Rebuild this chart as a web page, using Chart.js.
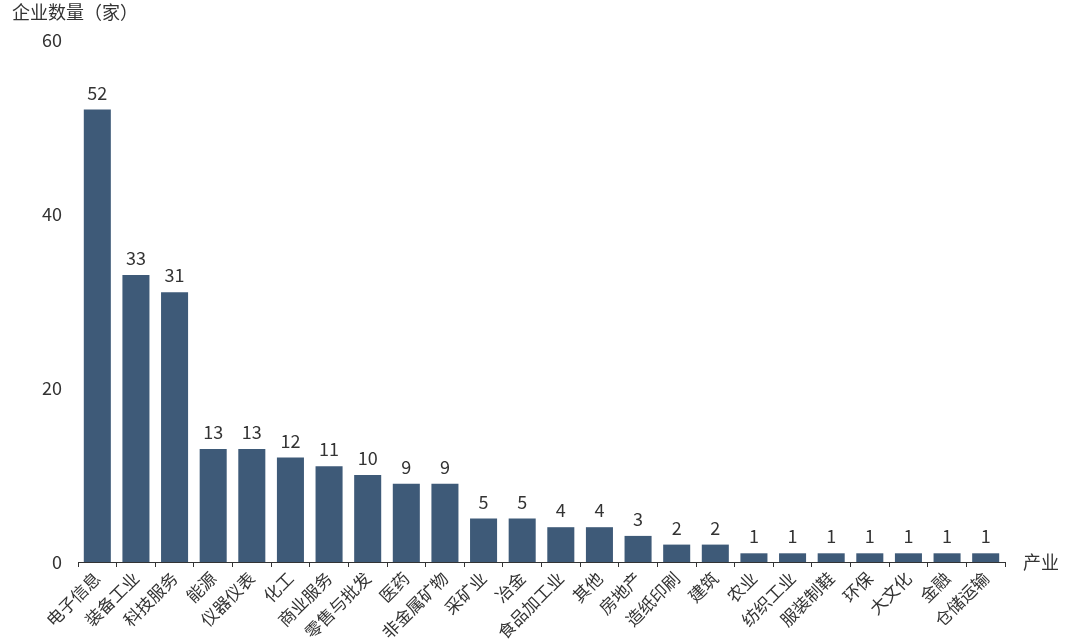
<!DOCTYPE html>
<html>
<head>
<meta charset="utf-8">
<script src="https://cdn.jsdelivr.net/npm/chart.js@4/dist/chart.umd.min.js"></script>
<style>
  html, body { margin: 0; padding: 0; background: #fff; }
  #wrap { width: 1077px; height: 643px; }
</style>
</head>
<body>
<div id="wrap"><canvas id="industryChart" width="1077" height="643"></canvas></div>
<script>
// 各产业企业数量
const industries = ['电子信息', '装备工业', '科技服务', '能源', '仪器仪表', '化工', '商业服务', '零售与批发',
  '医药', '非金属矿物', '采矿业', '冶金', '食品加工业', '其他', '房地产', '造纸印刷', '建筑', '农业',
  '纺织工业', '服装制鞋', '环保', '大文化', '金融', '仓储运输'];
const companyCounts = [52, 33, 31, 13, 13, 12, 11, 10, 9, 9, 5, 5, 4, 4, 3, 2, 2, 1, 1, 1, 1, 1, 1, 1];
const yTicks = [0, 20, 40, 60];

const FONT = "'Noto Sans CJK SC', 'Noto Sans', sans-serif";
const TEXT = '#333';

// valeurs au-dessus des barres + noms des axes
const labelPlugin = {
  id: 'labels',
  afterDatasetsDraw(chart) {
    const c = chart.ctx;
    const meta = chart.getDatasetMeta(0);
    c.save();
    c.fillStyle = TEXT;
    c.font = '18px ' + FONT;
    c.textAlign = 'center';
    c.textBaseline = 'alphabetic';
    meta.data.forEach((bar, i) => {
      c.fillText(companyCounts[i], bar.x, bar.y - 10);
    });
    c.font = '18px ' + FONT;
    c.textAlign = 'left';
    c.textBaseline = 'middle';
    c.fillText('企业数量（家）', 12, 12);
    c.fillText('产业', chart.chartArea.right + 18, chart.chartArea.bottom);
    c.restore();
  }
};

const ctx = document.getElementById('industryChart').getContext('2d');
const industryChart = new Chart(ctx, {
  type: 'bar',
  data: {
    labels: industries,
    datasets: [{
      label: '企业数量',
      data: companyCounts,
      backgroundColor: '#3e5a78',
      barPercentage: 0.7,
      categoryPercentage: 1
    }]
  },
  options: {
    responsive: false,
    animation: false,
    layout: { padding: { top: 40, right: 72, left: 0, bottom: 0 } },
    plugins: {
      legend: { display: false },
      tooltip: { enabled: false }
    },
    scales: {
      x: {
        afterFit(scale) { scale.height = 81; },
        border: { display: true, color: TEXT, width: 1 },
        grid: {
          display: true,
          offset: true,
          drawOnChartArea: false,
          drawTicks: true,
          tickLength: 5,
          color: TEXT
        },
        ticks: {
          color: TEXT,
          font: { family: FONT, size: 17 },
          minRotation: 45,
          maxRotation: 45,
          autoSkip: false,
          padding: 1
        }
      },
      y: {
        min: 0,
        max: 60,
        afterFit(scale) { scale.width = 78; },
        afterBuildTicks(scale) { scale.ticks = yTicks.map(v => ({ value: v })); },
        border: { display: false },
        grid: { display: false },
        ticks: {
          color: TEXT,
          font: { family: FONT, size: 18 },
          padding: 8
        }
      }
    }
  },
  plugins: [labelPlugin]
});
</script>
</body>
</html>
